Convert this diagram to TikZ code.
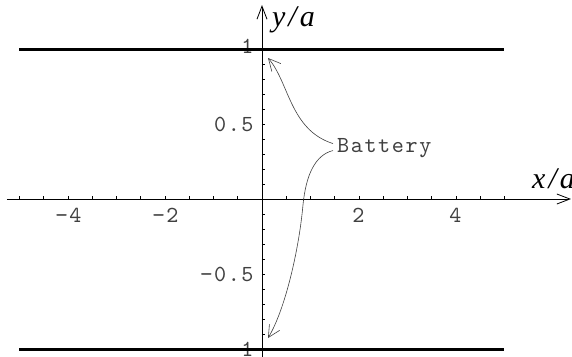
\documentclass[tikz,border=0pt]{standalone}
\usepackage{fontspec}
\newfontfamily\tmsfont{Liberation Serif}
\newfontfamily\spacedmono{lmmono10-regular.otf}[LetterSpace=7]
\usetikzlibrary{arrows.meta}
\newcommand\monolbl{\spacedmono\fontsize{23}{23}\selectfont}
\newcommand\axlbl{\tmsfont\itshape\fontsize{30}{30}\selectfont}
\begin{document}
\begin{tikzpicture}[x=48.5pt,y=150pt,
  axisline/.style={line width=0.8pt, draw=black},
  axisarrow/.style={-{Straight Barb[length=13pt,width=10pt,line width=0.8pt]}},
  ticklbl/.style={font=\monolbl, text=black!75, inner sep=0pt},
  axislbl/.style={font=\axlbl, inner sep=0pt},
  pointer/.style={line width=0.6pt, draw=black!75, -{Straight Barb[length=12pt,width=12pt,line width=0.6pt]}},
  wall/.style={line width=3pt, draw=black}]
\useasboundingbox (-5.402,-1.0533) rectangle (6.392,1.3267);

% axes
\coordinate (xs) at (-5.258,0);
\coordinate (xe) at (6.371,0);
\coordinate (ys) at (0,-1.06);
\coordinate (ye) at (0,1.293);
\draw[axisline,axisarrow] (xs) -- (xe);
\draw[axisline,axisarrow] (ys) -- (ye);

% ticks
\foreach \i in {-10,...,10} {
  \draw[line width=0.6pt] (\i/2,0) -- ++(0,3pt);
  \draw[line width=0.6pt] (0,\i/10) -- ++(3pt,0);
}

% tick labels
\node[ticklbl] (lxm4) at (-3.99,-0.107) {−4};
\node[ticklbl] (lxm2) at (-1.99,-0.107) {−2};
\node[ticklbl] (lx2) at (1.99,-0.107) {2};
\node[ticklbl] (lx4) at (3.99,-0.107) {4};
\node[ticklbl,anchor=east] (ly05) at (-0.17,0.5) {0.5};
\node[ticklbl,anchor=east] (lym05) at (-0.17,-0.5) {−0.5};
\node[ticklbl,anchor=east] (ly1) at (-0.17,1.017) {1};
\node[ticklbl,anchor=east] (lym1) at (-0.17,-1.0) {−1};

% axis labels
\node[axislbl,anchor=base west] (ylab) at (0.206,1.147) {y\kern3pt/\kern3pt a};
\node[axislbl,anchor=base west] (xlab) at (5.568,0.067) {x\kern3pt/\kern3pt a};

% walls (drawn over the labels)
\coordinate (w1a) at (-5,1);
\coordinate (w1b) at (5,1);
\coordinate (w2a) at (-5,-1);
\coordinate (w2b) at (5,-1);
\draw[wall] (w1a) -- (w1b);
\draw[wall] (w2a) -- (w2b);

% battery label and pointers
\node[ticklbl,anchor=base west] (battery) at (1.546,0.307) {Battery};
\coordinate (tipup) at (0.124,0.94);
\coordinate (tipdown) at (0.124,-0.927);
\coordinate (bend) at (0.845,-0.04);
\draw[pointer] ([xshift=-4pt,yshift=5pt]battery.west)
   .. controls (0.577,0.46) and (0.557,0.78) .. (tipup);
\draw[pointer] ([xshift=-4pt,yshift=-2pt]battery.west)
   .. controls (1.093,0.293) and (0.907,0.16) .. (bend)
   .. controls (0.762,-0.34) and (0.474,-0.74) .. (tipdown);
\end{tikzpicture}
\end{document}
